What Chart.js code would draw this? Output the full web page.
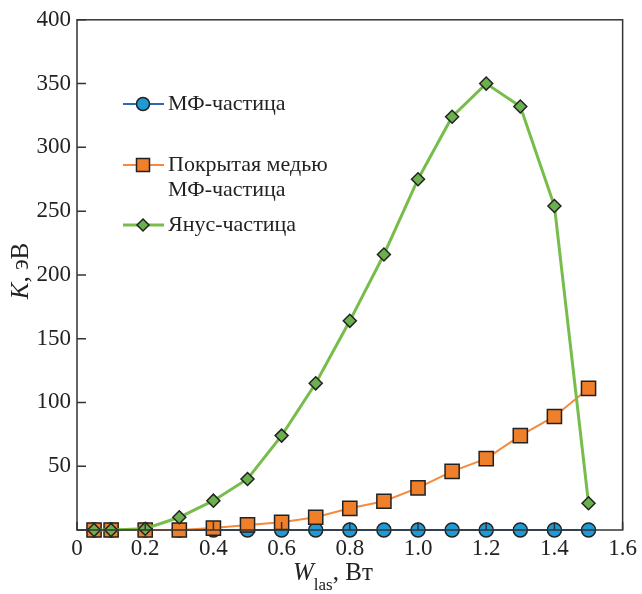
<!DOCTYPE html>
<html>
<head>
<meta charset="utf-8">
<script src="https://cdn.jsdelivr.net/npm/chart.js@4"></script>
<style>
    body { margin: 0; background: #fff; }
    #wrap { width: 642px; height: 594px; }
</style>
</head>
<body>
<div id="wrap"><canvas id="chart" width="642" height="594"></canvas></div>
<script>
const power = [0.05, 0.1, 0.2, 0.3, 0.4, 0.5, 0.6, 0.7, 0.8, 0.9, 1.0, 1.1, 1.2, 1.3, 1.4, 1.5];
const mfParticle = [0, 0, 0, 0, 0, 0, 0, 0, 0, 0, 0, 0, 0, 0, 0, 0];
const copperParticle = [0, 0, 0, 0, 1.5, 4, 6, 10, 17, 22.5, 33, 46, 56, 74, 89, 111];
const janusParticle = [0, 0, 1, 10, 23, 40, 74, 115, 164, 216, 275, 324, 350, 332, 254, 21];
const xTicks = [0, 0.2, 0.4, 0.6, 0.8, 1.0, 1.2, 1.4, 1.6];
const yTicks = [0, 50, 100, 150, 200, 250, 300, 350, 400];

const serif = '"Liberation Serif", "DejaVu Serif", serif';

const legendItems = [
    { lines: ['МФ-частица'], y: 104, line: '#2b6cb0', fill: '#1e9ad6', style: 'circle', r: 6.5, lw: 2 },
    { lines: ['Покрытая медью', 'МФ-частица'], y: 165, line: '#f58a3d', fill: '#f07f2a', style: 'rect', r: 6.5, lw: 2 },
    { lines: ['Янус-частица'], y: 225, line: '#78bd4c', fill: '#6ab04c', style: 'rectRot', r: 6, lw: 3 }
];

function pts(arr) {
    return power.map((x, i) => ({ x: x, y: arr[i] }));
}

// inward ticks, frame, axis titles and legend
const decor = {
    id: 'decor',
    afterDraw(c) {
        const ctx = c.ctx;
        const a = c.chartArea;
        const xs = c.scales.x, ys = c.scales.y;
        ctx.save();
        ctx.strokeStyle = '#333';
        ctx.lineWidth = 1.5;
        ctx.strokeRect(a.left, a.top, a.right - a.left, a.bottom - a.top);
        ctx.beginPath();
        xTicks.forEach(v => {
            const px = xs.getPixelForValue(v);
            ctx.moveTo(px, a.bottom);
            ctx.lineTo(px, a.bottom - 8);
        });
        yTicks.forEach(v => {
            const py = ys.getPixelForValue(v);
            ctx.moveTo(a.left, py);
            ctx.lineTo(a.left + 9, py);
        });
        ctx.stroke();

        // axis titles
        ctx.fillStyle = '#222';
        ctx.textBaseline = 'alphabetic';
        ctx.font = 'italic 25px ' + serif;
        let x = 293;
        ctx.fillText('W', x, 580);
        x += ctx.measureText('W').width;
        ctx.font = '17px ' + serif;
        ctx.fillText('las', x, 590);
        x += ctx.measureText('las').width;
        ctx.font = '25px ' + serif;
        ctx.fillText(', Вт', x, 580);

        ctx.save();
        ctx.translate(28, 271);
        ctx.rotate(-Math.PI / 2);
        ctx.font = 'italic 25px ' + serif;
        const kw = ctx.measureText('K').width;
        ctx.font = '25px ' + serif;
        const rest = ctx.measureText(', эВ').width;
        let tx = -(kw + rest) / 2;
        ctx.font = 'italic 25px ' + serif;
        ctx.fillText('K', tx, 0);
        ctx.font = '25px ' + serif;
        ctx.fillText(', эВ', tx + kw, 0);
        ctx.restore();

        // legend
        legendItems.forEach(it => {
            ctx.strokeStyle = it.line;
            ctx.lineWidth = it.lw;
            ctx.beginPath();
            ctx.moveTo(123, it.y);
            ctx.lineTo(164, it.y);
            ctx.stroke();
            ctx.fillStyle = it.fill;
            ctx.strokeStyle = '#222';
            ctx.lineWidth = 1.5;
            ctx.beginPath();
            if (it.style === 'circle') {
                ctx.arc(143, it.y, it.r, 0, Math.PI * 2);
            } else if (it.style === 'rect') {
                ctx.rect(143 - it.r, it.y - it.r, it.r * 2, it.r * 2);
            } else {
                ctx.moveTo(143, it.y - it.r);
                ctx.lineTo(143 + it.r, it.y);
                ctx.lineTo(143, it.y + it.r);
                ctx.lineTo(143 - it.r, it.y);
                ctx.closePath();
            }
            ctx.fill();
            ctx.stroke();
            ctx.fillStyle = '#222';
            ctx.font = '22px ' + serif;
            ctx.textBaseline = 'middle';
            it.lines.forEach((t, j) => ctx.fillText(t, 168, it.y + j * 25));
        });
        ctx.restore();
    }
};

new Chart(document.getElementById('chart'), {
    type: 'line',
    data: {
        datasets: [
            {
                label: 'МФ-частица',
                data: pts(mfParticle),
                borderColor: '#2b6cb0',
                borderWidth: 2,
                backgroundColor: '#1e9ad6',
                pointBackgroundColor: '#1e9ad6',
                pointBorderColor: '#222',
                pointBorderWidth: 1.5,
                pointStyle: 'circle',
                pointRadius: 7,
                order: 3
            },
            {
                label: 'Покрытая медью МФ-частица',
                data: pts(copperParticle),
                borderColor: '#f58a3d',
                borderWidth: 2,
                pointBackgroundColor: '#f07f2a',
                pointBorderColor: '#222',
                pointBorderWidth: 1.5,
                pointStyle: 'rect',
                pointRadius: 10,
                order: 2
            },
            {
                label: 'Янус-частица',
                data: pts(janusParticle),
                borderColor: '#78bd4c',
                borderWidth: 3,
                pointBackgroundColor: '#6ab04c',
                pointBorderColor: '#222',
                pointBorderWidth: 1.5,
                pointStyle: 'rectRot',
                pointRadius: 6.5,
                order: 1
            }
        ]
    },
    options: {
        responsive: false,
        animation: false,
        events: [],
        clip: false,
        layout: { padding: { top: 15, right: 19, left: 0, bottom: 0 } },
        plugins: {
            legend: { display: false },
            tooltip: { enabled: false }
        },
        scales: {
            x: {
                type: 'linear',
                min: 0,
                max: 1.6,
                afterFit: s => { s.height = 64; },
                afterBuildTicks: s => { s.ticks = xTicks.map(v => ({ value: v })); },
                grid: { display: false, drawTicks: false },
                border: { display: false },
                ticks: {
                    padding: 5,
                    color: '#222',
                    font: { family: serif, size: 23 },
                    callback: v => v === 0 ? '0' : v.toFixed(1)
                }
            },
            y: {
                min: 0,
                max: 400,
                afterFit: s => { s.width = 77; },
                afterBuildTicks: s => { s.ticks = yTicks.map(v => ({ value: v })); },
                grid: { display: false, drawTicks: false },
                border: { display: false },
                ticks: {
                    padding: 6,
                    color: '#222',
                    font: { family: serif, size: 23 },
                    callback: v => v === 0 ? '' : String(v)
                }
            }
        }
    },
    plugins: [decor]
});
</script>
</body>
</html>
